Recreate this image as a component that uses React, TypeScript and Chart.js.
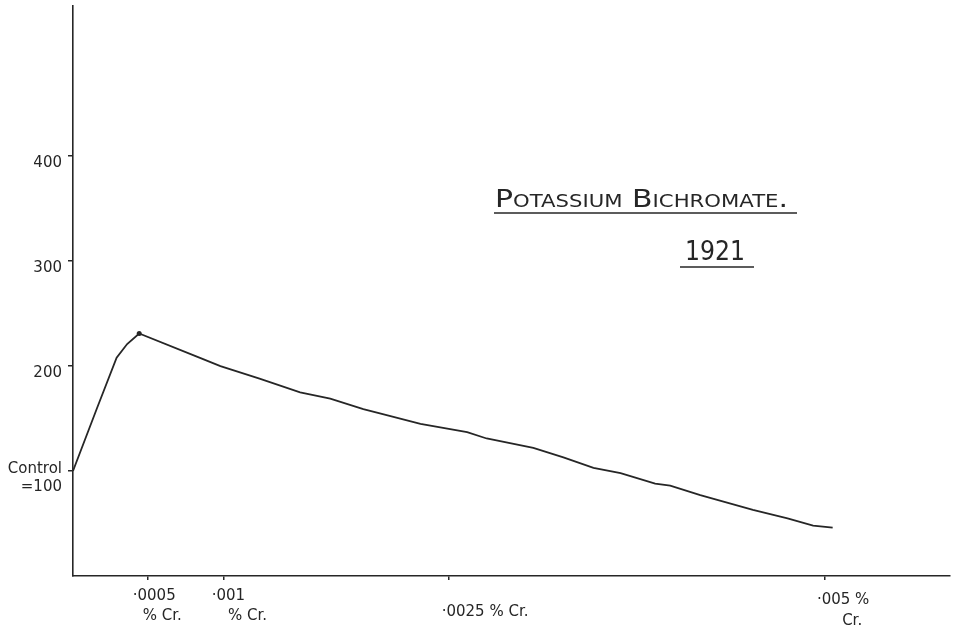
import React, { useEffect, useRef } from "react";
import { Chart, registerables } from "chart.js";

Chart.register(...registerables);

// Concentration of Cr (%) and relative growth (control = 100)
const concentrations = [
  0, 0.00016, 0.00029, 0.00036, 0.00044, 0.00084, 0.00098, 0.00124, 0.00151, 0.00171,
  0.00193, 0.00204, 0.00231, 0.00262, 0.00275, 0.00306, 0.00326, 0.00346, 0.00364,
  0.00387, 0.00397, 0.00417, 0.00452, 0.00475, 0.00492, 0.00505,
];
const growth = [
  100, 160, 208, 221, 231, 208, 200, 188, 175, 169,
  159, 155, 145, 137, 131, 122, 113, 103, 98,
  88, 86, 77, 63, 55, 48, 46,
];
const peakIndex = 4;

const yTickValues = [100, 200, 300, 400];
const yTickLabels: (string | string[])[] = [["Control", "=100"], "200", "300", "400"];
const xTickValues = [0.0005, 0.001, 0.0025, 0.005];
const xTickLabels: string[][] = [
  ["·0005", "% Cr."],
  ["·001", "% Cr."],
  ["·0025 % Cr."],
  ["·005 %", "Cr."],
];
const titleText = "Potassium Bichromate.";
const yearText = "1921";

const INK = "#262626";
const FONT = "'DejaVu Sans', sans-serif";

// label placement styles (offsets from tick position)
const xLabelDx = [[6, 14], [5, 24], [36], [18, 27]];
const xLabelDy = [[20, 40], [20, 40], [36], [24, 45]];

const annotationPlugin = {
  id: "handAnnotations",
  afterDraw(chart: any) {
    const ctx = chart.ctx as CanvasRenderingContext2D;
    const xs = chart.scales.x;
    const axisY = chart.chartArea.bottom;
    ctx.save();
    ctx.fillStyle = INK;
    ctx.strokeStyle = INK;
    ctx.textAlign = "center";
    ctx.textBaseline = "middle";
    ctx.font = `15px ${FONT}`;
    xTickValues.forEach((v, i) => {
      const px = xs.getPixelForValue(v);
      xTickLabels[i].forEach((line, j) => {
        ctx.fillText(line, px + xLabelDx[i][j], axisY + xLabelDy[i][j]);
      });
    });

    // title
    ctx.textAlign = "left";
    ctx.textBaseline = "alphabetic";
    ctx.font = `small-caps 24px ${FONT}`;
    const w = ctx.measureText(titleText).width;
    ctx.save();
    ctx.translate(495, 207);
    ctx.scale(293 / w, 1);
    ctx.fillText(titleText, 0, 0);
    ctx.restore();
    ctx.lineWidth = 1.3;
    ctx.beginPath();
    ctx.moveTo(494, 213);
    ctx.lineTo(797, 213);
    ctx.stroke();

    ctx.font = `27px ${FONT}`;
    const w2 = ctx.measureText(yearText).width;
    ctx.save();
    ctx.translate(685, 260);
    ctx.scale(60 / w2, 1);
    ctx.fillText(yearText, 0, 0);
    ctx.restore();
    ctx.beginPath();
    ctx.moveTo(680, 267);
    ctx.lineTo(754, 267);
    ctx.stroke();
    ctx.restore();
  },
};

export default function App() {
  const canvasRef = useRef<HTMLCanvasElement | null>(null);

  useEffect(() => {
    if (!canvasRef.current) return;
    const chart = new Chart(canvasRef.current, {
      type: "line",
      data: {
        datasets: [
          {
            data: concentrations.map((c, i) => ({ x: c, y: growth[i] })),
            borderColor: INK,
            borderWidth: 1.8,
            pointRadius: (ctx: any) => (ctx.dataIndex === peakIndex ? 2.5 : 0),
            pointBackgroundColor: INK,
            pointBorderWidth: 0,
            tension: 0,
            fill: false,
          },
        ],
      },
      options: {
        responsive: false,
        animation: false,
        layout: { padding: { top: 6, right: 10, left: 0, bottom: 0 } },
        plugins: {
          legend: { display: false },
          tooltip: { enabled: false },
          title: { display: false },
        },
        scales: {
          x: {
            type: "linear",
            min: 0,
            max: 0.00583,
            afterBuildTicks: (scale: any) => {
              scale.ticks = xTickValues.map((v) => ({ value: v }));
            },
            afterFit: (scale: any) => {
              scale.height = 56;
              scale.paddingLeft = 0;
              scale.paddingRight = 0;
            },
            ticks: { display: false },
            grid: {
              drawOnChartArea: false,
              drawTicks: true,
              tickLength: 4,
              color: INK,
              lineWidth: 1.5,
            },
            border: { display: true, color: INK, width: 1.6 },
          },
          y: {
            type: "linear",
            min: 0,
            max: 543,
            afterBuildTicks: (scale: any) => {
              scale.ticks = yTickValues.map((v) => ({ value: v }));
            },
            afterFit: (scale: any) => {
              scale.width = 73;
              scale.paddingTop = 0;
              scale.paddingBottom = 0;
            },
            ticks: {
              callback: (_v: any, i: number) => yTickLabels[i],
              color: INK,
              font: { family: "'DejaVu Sans', sans-serif", size: 15 },
              padding: 6,
              labelOffset: 7,
            },
            grid: {
              drawOnChartArea: false,
              drawTicks: true,
              tickLength: 5,
              color: INK,
              lineWidth: 1.5,
            },
            border: { display: true, color: INK, width: 1.6 },
          },
        },
      },
      plugins: [annotationPlugin],
    } as any);
    return () => chart.destroy();
  }, []);

  return (
    <div style={{ position: "fixed", left: 0, top: 0, width: 960, height: 632, background: "#fff" }}>
      <canvas ref={canvasRef} width={960} height={632} />
    </div>
  );
}
